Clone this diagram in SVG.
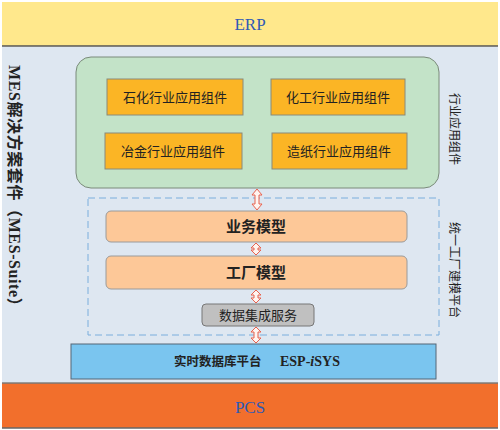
<svg xmlns="http://www.w3.org/2000/svg" width="500" height="430" viewBox="0 0 500 430">
<style>
.cjk{font-family:"Noto Sans CJK SC","Liberation Sans",sans-serif;fill:#222}
.ser{font-family:"Liberation Serif","Noto Sans CJK SC",serif}
.app{fill:#FBB525;stroke:#8A8A7A;stroke-width:1}
.model{fill:#FDC898;stroke:#9A9A9A;stroke-width:1}
.arr{fill:#FFF4F0;stroke:#E8624E;stroke-width:1}
</style>
<rect x="0" y="0" width="500" height="430" fill="#FFFFFF"/>
<g id="erp">
<rect x="2" y="2" width="496" height="44" fill="#FFE88C"/>
<line x1="2" y1="46" x2="498" y2="46" stroke="#555" stroke-width="1.5"/>
<text x="250" y="30" class="ser" font-size="17" fill="#2F5AB5" text-anchor="middle">ERP</text>
</g>
<g id="mes">
<rect x="2" y="47" width="496" height="335" fill="#DEE7F1"/>
<text class="ser" font-size="16" font-weight="bold" fill="#222" letter-spacing="0.6" transform="translate(9,65) rotate(90)">MES解决方案套件（MES-Suite）</text>
</g>
<g id="apps">
<rect x="76" y="57" width="363" height="131" rx="15" fill="#C3E3C8" stroke="#7A8A7A" stroke-width="1"/>
<text class="cjk" font-size="12" transform="translate(450,93) rotate(90)">行业应用组件</text>
</g>
<g id="app1"><rect class="app" x="107" y="79" width="136" height="36"/><text class="cjk" x="175" y="102" font-size="13" text-anchor="middle">石化行业应用组件</text></g>
<g id="app2"><rect class="app" x="271" y="79" width="134" height="36"/><text class="cjk" x="338" y="102" font-size="13" text-anchor="middle">化工行业应用组件</text></g>
<g id="app3"><rect class="app" x="105" y="133" width="137" height="36"/><text class="cjk" x="173" y="156" font-size="13" text-anchor="middle">冶金行业应用组件</text></g>
<g id="app4"><rect class="app" x="272" y="133" width="135" height="36"/><text class="cjk" x="339" y="156" font-size="13" text-anchor="middle">造纸行业应用组件</text></g>
<g id="platform">
<rect x="88" y="198" width="351" height="137" fill="none" stroke="#7AAEDD" stroke-width="1" stroke-dasharray="7,4"/>
<text class="cjk" font-size="12" transform="translate(450,222) rotate(90)">统一工厂建模平台</text>
</g>
<g id="biz"><rect class="model" x="106" y="211" width="301" height="31" rx="5"/><text class="cjk" x="256" y="232" font-size="15" font-weight="bold" text-anchor="middle">业务模型</text></g>
<g id="factory"><rect class="model" x="106" y="256" width="301" height="33" rx="5"/><text class="cjk" x="256" y="278" font-size="15" font-weight="bold" text-anchor="middle">工厂模型</text></g>
<g id="data"><rect x="202" y="304" width="112" height="22" rx="4" fill="#C0C0C0" stroke="#777" stroke-width="1"/><text class="cjk" x="258" y="320" font-size="13" text-anchor="middle">数据集成服务</text></g>
<g id="rtdb">
<rect x="71" y="344" width="365" height="35" fill="#7AC5EF" stroke="#556677" stroke-width="1"/>
<text class="cjk" x="174" y="366" font-size="12.5" font-weight="bold">实时数据库平台</text>
<text x="280" y="366" font-size="14" font-weight="bold" font-family="Liberation Serif,serif" fill="#222">ESP-<tspan font-style="italic">i</tspan>SYS</text>
</g>
<g id="pcs">
<rect x="2" y="383" width="496" height="45" fill="#F26F2C"/>
<line x1="2" y1="383" x2="498" y2="383" stroke="#777" stroke-width="1.5"/>
<line x1="2" y1="428" x2="498" y2="428" stroke="#666" stroke-width="1.5"/>
<text x="250" y="413" class="ser" font-size="17" fill="#2F5AB5" text-anchor="middle">PCS</text>
</g>
<g id="connectors">
<path class="arr" d="M257,189 L262,195 L259,195 L259,204 L262,204 L257,210 L252,204 L255,204 L255,195 L252,195 Z"/>
<path class="arr" d="M256,243 L261,248 L258,248 L258,250 L261,250 L256,255 L251,250 L254,250 L254,248 L251,248 Z"/>
<path class="arr" d="M256,290 L261,295 L258,295 L258,298 L261,298 L256,303 L251,298 L254,298 L254,295 L251,295 Z"/>
<path class="arr" d="M256,327 L261,332 L258,332 L258,338 L261,338 L256,343 L251,338 L254,338 L254,332 L251,332 Z"/>
</g>
</svg>
